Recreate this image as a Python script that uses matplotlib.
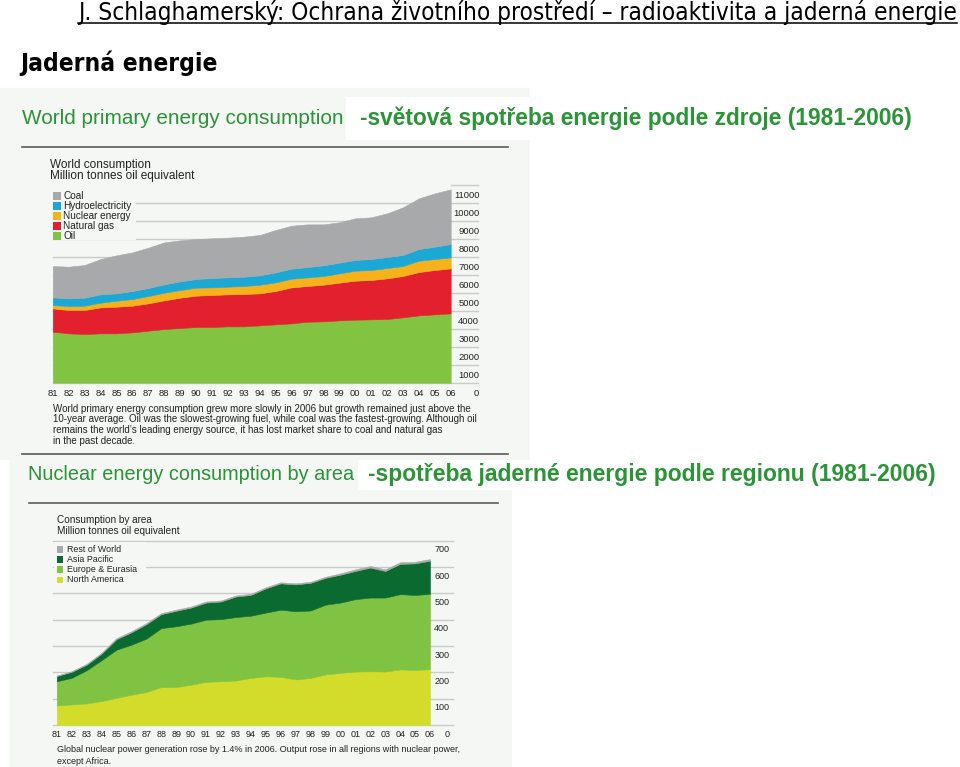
import os
import matplotlib
matplotlib.use('Agg')
import matplotlib.pyplot as plt
from matplotlib import font_manager, transforms
from matplotlib.font_manager import FontProperties
from matplotlib.patches import Rectangle

# ---------------- data ----------------
years = list(range(1981, 2007))
year_labels = [f"{y % 100:02d}" for y in years]

# World primary energy consumption, Mtoe
oil = [2833, 2741, 2704, 2741, 2741, 2796, 2889, 2981, 3037, 3093, 3093, 3130, 3130,
       3185, 3241, 3296, 3389, 3407, 3463, 3500, 3519, 3537, 3630, 3741, 3796, 3852]
gas = [1296, 1296, 1333, 1444, 1481, 1481, 1519, 1593, 1685, 1741, 1778, 1778, 1796,
       1778, 1852, 2000, 1981, 2037, 2093, 2167, 2185, 2259, 2296, 2407, 2463, 2500]
nuclear = [185, 222, 241, 259, 333, 370, 407, 426, 426, 444, 426, 426, 444,
           481, 481, 481, 481, 481, 519, 556, 556, 574, 556, 630, 611, 611]
hydro = [426, 426, 444, 463, 407, 444, 444, 463, 481, 481, 519, 519, 519,
         519, 556, 556, 574, 593, 593, 593, 611, 611, 611, 648, 685, 741]
coal = [1741, 1759, 1815, 1963, 2111, 2148, 2241, 2333, 2278, 2222, 2204, 2204, 2222,
        2241, 2352, 2389, 2370, 2278, 2241, 2315, 2315, 2426, 2648, 2815, 2963, 3037]
top_ticks = list(range(0, 12000, 1000))
top_legend = ["Coal", "Hydroelectricity", "Nuclear energy", "Natural gas", "Oil"]

# Nuclear energy consumption by area, Mtoe
north_america = [74, 78, 82, 91, 103, 115, 125, 144, 144, 153, 164, 166, 169,
                 179, 185, 183, 173, 179, 192, 198, 203, 204, 203, 211, 209, 212]
europe_eurasia = [92, 101, 126, 155, 183, 190, 203, 224, 231, 232, 236, 236, 241,
                  236, 242, 255, 259, 256, 265, 267, 275, 280, 281, 286, 285, 286]
asia_pacific = [20, 23, 21, 25, 40, 47, 55, 53, 59, 61, 65, 67, 78,
                79, 92, 100, 102, 105, 102, 106, 107, 114, 101, 115, 120, 126]
rest_of_world = [2, 2, 3, 3, 4, 4, 4, 4, 4, 4, 4, 4, 4,
                 4, 4, 4, 4, 4, 4, 5, 6, 6, 6, 6, 6, 6]
bottom_ticks = list(range(0, 800, 100))
bottom_legend = ["Rest of World", "Asia Pacific", "Europe & Eurasia", "North America"]

header = "J. Schlaghamerský: Ochrana životního prostředí – radioaktivita a jaderná energie"
slide_title = "Jaderná energie"
title1_en = "World primary energy consumption"
title1_cz = "-světová spotřeba energie podle zdroje (1981-2006)"
title2_en = "Nuclear energy consumption by area"
title2_cz = "-spotřeba jaderné energie podle regionu (1981-2006)"
sub1 = ["World consumption", "Million tonnes oil equivalent"]
sub2 = ["Consumption by area", "Million tonnes oil equivalent"]
caption1 = ["World primary energy consumption grew more slowly in 2006 but growth remained just above the",
            "10-year average. Oil was the slowest-growing fuel, while coal was the fastest-growing. Although oil",
            "remains the world’s leading energy source, it has lost market share to coal and natural gas",
            "in the past decade."]
caption2 = ["Global nuclear power generation rose by 1.4% in 2006. Output rose in all regions with nuclear power,",
            "except Africa."]

# ---------------- styles ----------------
C_OIL, C_GAS, C_NUC, C_HYD, C_COAL = "#82c341", "#e3202d", "#f7b21b", "#1ba8d5", "#a8a9ab"
C_NA, C_EU, C_AP, C_ROW = "#d3dc2a", "#80c342", "#0b6a2f", "#a8a9ab"
BG = "#f4f7f3"
GREEN = "#2a9437"
TXT = "#222222"
GRID = "#c9cbc9"
SANS = 'Liberation Sans'


def pick_condensed():
    """Find a narrow/condensed sans font file (regular, bold)."""
    prefs = ['liberationsansnarrow', 'liberation sans narrow', 'dejavusanscondensed',
             'robotocondensed', 'opensanscondensed', 'notosanscondensed', 'condensed', 'narrow']
    found = []
    for f in font_manager.fontManager.ttflist:
        base = os.path.basename(f.fname).lower().replace('-', '').replace('_', '')
        if ('narrow' not in base and 'condensed' not in base):
            continue
        if 'mono' in base or 'serif' in base or 'italic' in base or 'oblique' in base:
            continue
        rank = next((i for i, p in enumerate(prefs) if p.replace(' ', '') in base), len(prefs))
        w = f.weight if isinstance(f.weight, int) else (700 if 'bold' in str(f.weight) else 400)
        found.append((rank, base, f.fname, w))
    if not found:
        return FontProperties(family=SANS), FontProperties(family=SANS, weight='bold')
    found.sort()
    best_rank = found[0][0]
    group = [x for x in found if x[0] == best_rank]
    reg = min(group, key=lambda x: abs(x[3] - 400))
    bold = min(group, key=lambda x: abs(x[3] - 700))
    rfp = FontProperties(fname=reg[2])
    bfp = FontProperties(fname=bold[2])
    if bold[3] < 600:
        bfp.set_weight('bold')
    return rfp, bfp


NARROW_R, NARROW_B = pick_condensed()

W, H = 960, 767
fig = plt.figure(figsize=(W / 100, H / 100), dpi=100)
renderer = fig.canvas.get_renderer()

bg = fig.add_axes([0, 0, 1, 1])
bg.set_xlim(0, W); bg.set_ylim(H, 0); bg.axis('off'); bg.set_zorder(0)

ov = fig.add_axes([0, 0, 1, 1])
ov.set_xlim(0, W); ov.set_ylim(H, 0); ov.axis('off'); ov.set_zorder(3)
ov.patch.set_alpha(0)

# backgrounds of the embedded pictures
bg.add_patch(Rectangle((0, 88), 530, 372, facecolor=BG, edgecolor='none'))
bg.add_patch(Rectangle((10, 460), 502, 307, facecolor=BG, edgecolor='none'))
bg.add_patch(Rectangle((346, 97), 600, 43, facecolor='white', edgecolor='none'))
bg.add_patch(Rectangle((358, 460), 600, 30, facecolor='white', edgecolor='none'))
bg.plot([22, 508], [147, 147], color="#5a5a5a", lw=1.2)
bg.plot([22, 508], [454, 454], color="#5a5a5a", lw=1.2)
bg.plot([29, 498], [503, 503], color="#5a5a5a", lw=1.2)


def fit_text(ax, x0, x1, yc, s, fp=None, base=10, **kw):
    t = ax.text(x0, yc, s, ha='left', va='center', **kw)
    if fp is not None:
        t.set_fontproperties(fp.copy())
    t.set_fontsize(base)
    w = t.get_window_extent(renderer).width
    fs = base * (x1 - x0) / w
    t.set_fontsize(fs)
    return t, fs


# slide header
t, _ = fit_text(ov, 78, 958, 12, header, fp=NARROW_R, color='black')
bb = t.get_window_extent(renderer)
ov.plot([bb.x0, bb.x1], [23, 23], color='black', lw=1.1)
fit_text(ov, 20, 216, 63, slide_title, fp=NARROW_B, color='black')

# green titles
fit_text(ov, 22, 345, 118, title1_en, family=SANS, color=GREEN)
fit_text(ov, 360, 915, 118, title1_cz, family=SANS, weight='bold', color=GREEN)
fit_text(ov, 28, 355, 474, title2_en, family=SANS, color=GREEN)
fit_text(ov, 368, 938, 474, title2_cz, family=SANS, weight='bold', color=GREEN)

# sub headings
_, fs = fit_text(ov, 50, 195, 176, sub1[1], family=SANS, color=TXT)
ov.text(50, 165, sub1[0], fontsize=fs, family=SANS, color=TXT, ha='left', va='center')
_, fs = fit_text(ov, 57, 180, 531, sub2[1], family=SANS, color=TXT)
ov.text(57, 520, sub2[0], fontsize=fs, family=SANS, color=TXT, ha='left', va='center')

# captions
_, fs = fit_text(ov, 52.7, 475, 408.7, caption1[0], family=SANS, color=TXT)
for line, yc in zip(caption1[1:], [419.3, 430, 441]):
    ov.text(52.7, yc, line, fontsize=fs, family=SANS, color=TXT, ha='left', va='center')
_, fs = fit_text(ov, 57, 461.7, 750, caption2[0], family=SANS, color=TXT)
ov.text(57, 761, caption2[1], fontsize=fs, family=SANS, color=TXT, ha='left', va='center')

# legends
ov.add_patch(Rectangle((50, 188), 86, 52, facecolor=BG, edgecolor='none'))
_, fs_leg = fit_text(ov, 63, 132, 206, top_legend[1], family=SANS, color=TXT)
for i, (lab, col) in enumerate(zip(top_legend, [C_COAL, C_HYD, C_NUC, C_GAS, C_OIL])):
    yc = 196 + i * 10
    ov.add_patch(Rectangle((52.7, yc - 3.7), 8, 7.4, facecolor=col, edgecolor='none'))
    if i != 1:
        ov.text(63, yc, lab, fontsize=fs_leg, family=SANS, color=TXT, ha='left', va='center')

ov.add_patch(Rectangle((54, 542), 92, 44, facecolor=BG, edgecolor='none'))
_, fs_leg2 = fit_text(ov, 67.3, 136.7, 569.7, bottom_legend[2], family=SANS, color=TXT)
for i, (lab, col) in enumerate(zip(bottom_legend, [C_ROW, C_AP, C_EU, C_NA])):
    yc = 549.3 + i * 10.2
    ov.add_patch(Rectangle((56.7, yc - 3.3), 6.5, 6.6, facecolor=col, edgecolor='none'))
    if i != 2:
        ov.text(67.3, yc, lab, fontsize=fs_leg2, family=SANS, color=TXT, ha='left', va='center')


def px_axes(l, r, t, b):
    a = fig.add_axes([l / W, 1 - b / H, (r - l) / W, (b - t) / H])
    a.axis('off')
    a.patch.set_alpha(0)
    a.set_zorder(1)
    return a


def draw_chart(ax, series, colors, ticks, xleft_px, xright_px, label_right_px, off, fs_tick,
               short_top=None):
    polys = ax.stackplot(years, *series, colors=colors, zorder=2)
    for p, c in zip(polys, colors):
        p.set_edgecolor(c)
        p.set_linewidth(0.4)
    blend = transforms.blended_transform_factory(bg.transData, ax.transData)
    for v in ticks:
        x0 = short_top if (short_top is not None and v == ticks[-1]) else xleft_px
        ax.plot([x0, xright_px], [v, v], color=GRID, lw=1.0, transform=blend,
                clip_on=False, zorder=0)
        ax.text(label_right_px, v, f"{v}", transform=transforms.offset_copy(
            blend, fig=fig, y=-off, units='dots'), ha='right', va='center',
            fontsize=fs_tick, family=SANS, color=TXT, clip_on=False)
    for yv, lab in zip(years, year_labels):
        ax.text(yv, 0, lab, transform=transforms.offset_copy(
            ax.transData, fig=fig, y=-off, units='dots'), ha='center', va='center',
            fontsize=fs_tick, family=SANS, color=TXT, clip_on=False)


ax1 = px_axes(52.7, 450.7, 184.7, 382.7)
ax1.set_xlim(years[0], years[-1]); ax1.set_ylim(0, top_ticks[-1])
draw_chart(ax1, [oil, gas, nuclear, hydro, coal], [C_OIL, C_GAS, C_NUC, C_HYD, C_COAL],
           top_ticks, 52.7, 478, 479.3, 10.5, 6.8, short_top=451)

ax2 = px_axes(56.7, 430, 540.7, 725)
ax2.set_xlim(years[0], years[-1]); ax2.set_ylim(0, bottom_ticks[-1])
draw_chart(ax2, [north_america, europe_eurasia, asia_pacific, rest_of_world],
           [C_NA, C_EU, C_AP, C_ROW], bottom_ticks, 53, 453, 449.3, 9.3, 6.5)

fig.savefig("out.png", dpi=100)
